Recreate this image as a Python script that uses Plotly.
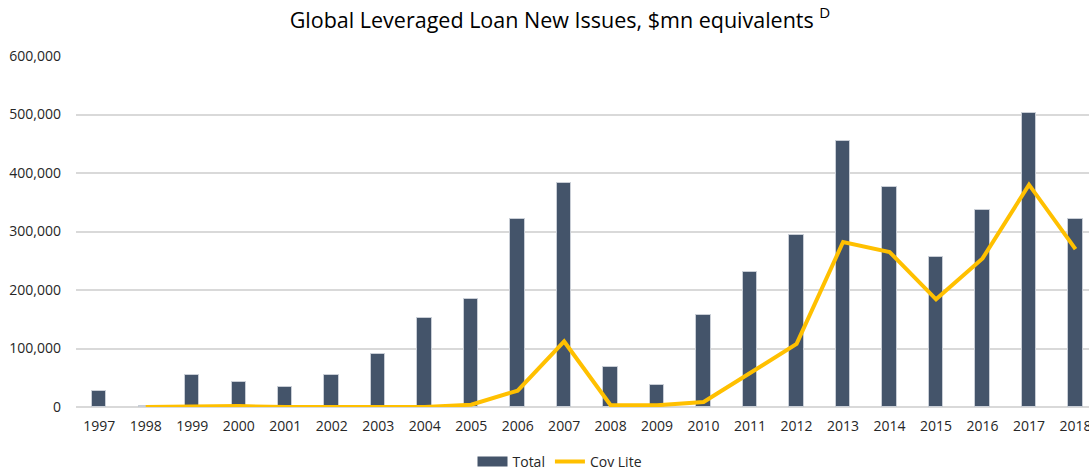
import plotly.graph_objects as go

years = [str(y) for y in range(1997, 2019)]
total = [27000, 1500, 55000, 42000, 34000, 55000, 90000, 152000, 184000, 322000, 383000,
         69000, 38000, 157000, 231000, 294000, 455000, 376000, 256000, 336000, 502000, 321000]
cov_lite = [None, 0, 1500, 1500, 0, 0, 1500, 0, 4000, 28000, 112000,
            3000, 3000, 8500, 58000, 108000, 282000, 265000, 184000, 254000, 380000, 270000]
y_ticks = [0, 100000, 200000, 300000, 400000, 500000, 600000]

BAR_COLOR = "#44546A"
LINE_COLOR = "#FFC000"

fig = go.Figure()
fig.add_trace(go.Bar(
    x=years, y=total, name="Total", width=0.31, showlegend=False,
    marker=dict(color=BAR_COLOR, line=dict(color="#C9CED6", width=1)),
))
# legend swatch for the bars (wide rectangle like the reference)
fig.add_trace(go.Scatter(
    x=[None], y=[None], name="Total", mode="lines",
    line=dict(color=BAR_COLOR, width=12),
))
fig.add_trace(go.Scatter(
    x=years, y=cov_lite, name="Cov Lite", mode="lines",
    line=dict(color=LINE_COLOR, width=4), connectgaps=False,
))

font_family = "Open Sans"
fig.update_layout(
    width=1089, height=470,
    margin=dict(l=76, r=0, t=56, b=63, autoexpand=False),
    paper_bgcolor="white", plot_bgcolor="white",
    font=dict(family=font_family, size=14, color="#262626"),
    title=dict(text="Global Leveraged Loan New Issues, $mn equivalents <sup>D</sup>",
               x=560 / 1089, xanchor="center", xref="container",
               y=1 - 20 / 470, yanchor="middle", yref="container",
               font=dict(size=21.5, color="#000000", family=font_family)),
    showlegend=True,
    legend=dict(orientation="h", xref="container", x=560 / 1089, xanchor="center",
                yref="paper", y=-55 / 351, yanchor="middle",
                font=dict(size=14, color="#262626"),
                bgcolor="rgba(0,0,0,0)", tracegroupgap=0),
    bargap=0.0,
)
fig.update_xaxes(
    type="category", range=[-0.5, 21.29],
    showgrid=False, showline=False, zeroline=False,
    ticks="outside", ticklen=6, tickcolor="rgba(0,0,0,0)",
    tickfont=dict(size=14, color="#262626"),
)
fig.update_yaxes(
    range=[0, 600000], tickvals=y_ticks, tickformat=",",
    showgrid=True, gridcolor="#D9D9D9", gridwidth=1.5,
    zeroline=True, zerolinecolor="#D9D9D9", zerolinewidth=1.5,
    showline=False, ticklabelstandoff=14,
    tickfont=dict(size=14, color="#262626"),
)

fig.write_html("out.html", config={"displayModeBar": False},
               post_script="document.body.style.margin='0';document.body.style.overflow='hidden';")
